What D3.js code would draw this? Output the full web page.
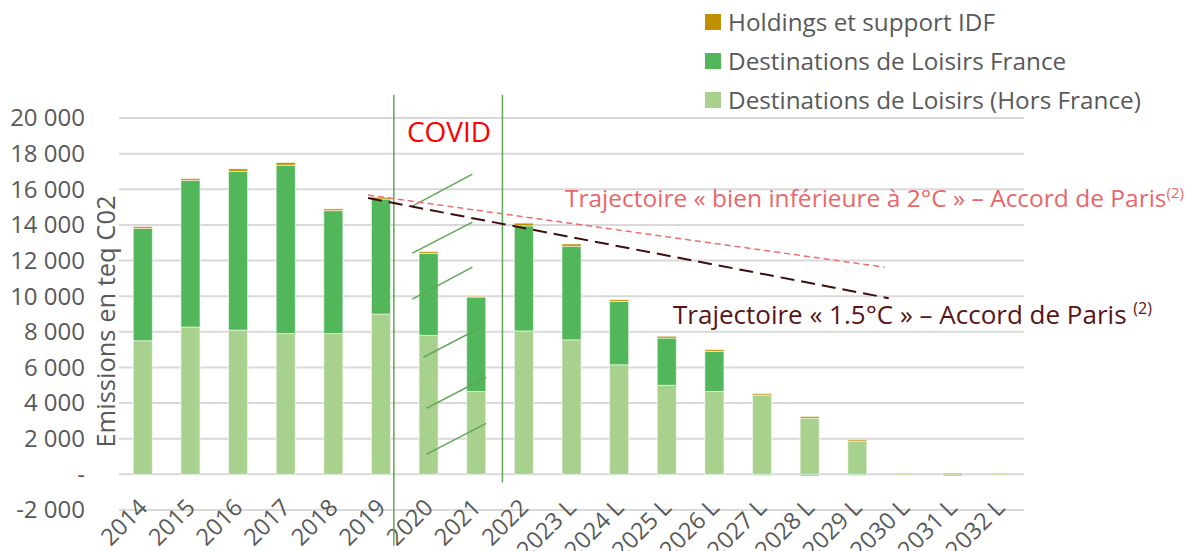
<!DOCTYPE html>
<html>
<head>
<meta charset="utf-8">
<script src="https://cdn.jsdelivr.net/npm/d3@7"></script>
<style>
  body { margin: 0; background: #fff; }
  svg { display: block; font-family: "Open Sans", Lato, sans-serif; }
</style>
</head>
<body>
<div id="chart"></div>
<script>
// categories and series
const years = ['2014', '2015', '2016', '2017', '2018', '2019', '2020', '2021', '2022',
    '2023 L', '2024 L', '2025 L', '2026 L', '2027 L', '2028 L', '2029 L', '2030 L', '2031 L', '2032 L'];
const horsFrance = [7500, 8270, 8100, 7900, 7900, 9000, 7800, 4650, 8050, 7550, 6150, 5000, 4650, 4450, 3150, 1870, -60, 0, -60];
const france = [6300, 8230, 8900, 9450, 6900, 6450, 4600, 5300, 5900, 5250, 3550, 2650, 2250, -50, -80, -50, 0, -80, 0];
const holdings = [100, 100, 150, 150, 100, 100, 100, 50, 150, 130, 100, 100, 100, 80, 100, 80, 60, 70, 60];
const yTicks = [-2000, 0, 2000, 4000, 6000, 8000, 10000, 12000, 14000, 16000, 18000, 20000];

// trajectories: [category index, value]
const traj2C = [[4.73, 15675], [15.57, 11630]];
const traj15C = [[4.73, 15506], [15.66, 9888]];

// covid period (category index positions, value extent)
const covidLines = [{i: 5.27, top: 21300, bottom: -4000}, {i: 7.55, top: 21300, bottom: -450}];
// hatch strokes inside the covid band: [i0, v0, i1, v1]
const covidHatch = [
    [5.66, 15056, 6.92, 16854],
    [5.66, 12416, 6.92, 14157],
    [5.66, 9831, 6.92, 11629],
    [5.89, 6573, 7.15, 8315],
    [5.95, 3708, 7.21, 5449],
    [5.95, 1124, 7.21, 2865]
];

const series = [
    {key: 'hors', name: 'Destinations de Loisirs (Hors France)', color: '#a9d18e'},
    {key: 'france', name: 'Destinations de Loisirs France', color: '#51b75a'},
    {key: 'holdings', name: 'Holdings et support IDF', color: '#bf9000'}
];

const W = 1199, H = 551;
const plot = {left: 119, right: 1024, top: 118, bottom: 510};

const rows = years.map((y, i) => ({year: y, hors: horsFrance[i], france: france[i], holdings: holdings[i]}));

const svg = d3.select('#chart').append('svg')
    .attr('width', W)
    .attr('height', H);

const x = d3.scaleBand()
    .domain(years)
    .range([plot.left, plot.right])
    .paddingInner(0.6)
    .paddingOuter(0.3);

const xi = d3.scaleLinear().domain([-0.5, years.length - 0.5]).range([plot.left, plot.right]);

const y = d3.scaleLinear()
    .domain([-2000, 20000])
    .range([plot.bottom, plot.top]);

// gridlines
svg.append('g')
    .selectAll('line')
    .data(yTicks)
    .join('line')
    .attr('x1', plot.left)
    .attr('x2', plot.right)
    .attr('y1', d => y(d))
    .attr('y2', d => y(d))
    .attr('stroke', '#d9d9d9')
    .attr('stroke-width', 2);

// y tick labels (excel style: space thousands, "-" for zero)
const fmt = d => d === 0 ? '-' : d3.format(',')(d).replace(/,/g, ' ').replace('\u2212', '-');
svg.append('g')
    .selectAll('text')
    .data(yTicks)
    .join('text')
    .attr('x', 85)
    .attr('y', d => y(d))
    .attr('dy', '0.35em')
    .attr('text-anchor', 'end')
    .attr('fill', '#595959')
    .style('font-size', '24px')
    .text(fmt);

// y axis title
svg.append('text')
    .attr('transform', `translate(115,${(188 + 455) / 2}) rotate(-90)`)
    .attr('text-anchor', 'middle')
    .attr('fill', '#595959')
    .style('font-size', '25.5px')
    .text('Emissions en teq C02');

// stacked bars
const stack = d3.stack()
    .keys(series.map(s => s.key))
    .offset(d3.stackOffsetDiverging);
const stacked = stack(rows);

svg.append('g')
    .selectAll('g')
    .data(stacked)
    .join('g')
    .attr('fill', (d, i) => series[i].color)
    .selectAll('rect')
    .data(d => d)
    .join('rect')
    .attr('x', d => x(d.data.year))
    .attr('width', x.bandwidth())
    .attr('y', d => y(Math.max(d[0], d[1])))
    .attr('height', d => Math.abs(y(d[0]) - y(d[1])))
    .attr('stroke', 'rgba(255,255,255,0.55)')
    .attr('stroke-width', 1);

// x labels
svg.append('g')
    .selectAll('text')
    .data(years)
    .join('text')
    .attr('transform', d => `translate(${x(d) + x.bandwidth() / 2 + 6},509) rotate(-45)`)
    .attr('text-anchor', 'end')
    .attr('fill', '#595959')
    .style('font-size', '23.5px')
    .text(d => d);

// covid lines
svg.append('g')
    .selectAll('line')
    .data(covidLines)
    .join('line')
    .attr('x1', d => xi(d.i))
    .attr('x2', d => xi(d.i))
    .attr('y1', d => y(d.top))
    .attr('y2', d => y(d.bottom))
    .attr('stroke', '#5fa855')
    .attr('stroke-width', 1.5);

svg.append('g')
    .selectAll('line')
    .data(covidHatch)
    .join('line')
    .attr('x1', d => xi(d[0]))
    .attr('y1', d => y(d[1]))
    .attr('x2', d => xi(d[2]))
    .attr('y2', d => y(d[3]))
    .attr('stroke', '#5fa855')
    .attr('stroke-width', 1.5);

svg.append('text')
    .attr('x', 449)
    .attr('y', 142)
    .attr('text-anchor', 'middle')
    .attr('fill', '#ff0000')
    .style('font-size', '28px')
    .text('COVID');

// trajectories
svg.append('line')
    .attr('x1', xi(traj2C[0][0])).attr('y1', y(traj2C[0][1]))
    .attr('x2', xi(traj2C[1][0])).attr('y2', y(traj2C[1][1]))
    .attr('stroke', '#ee6e6e')
    .attr('stroke-width', 1.5)
    .attr('stroke-dasharray', '6,4');

svg.append('line')
    .attr('x1', xi(traj15C[0][0])).attr('y1', y(traj15C[0][1]))
    .attr('x2', xi(traj15C[1][0])).attr('y2', y(traj15C[1][1]))
    .attr('stroke', '#3f0d0d')
    .attr('stroke-width', 2)
    .attr('stroke-dasharray', '14,7');

const t2 = svg.append('text')
    .attr('x', 565)
    .attr('y', 207)
    .attr('fill', '#e8676b')
    .style('font-size', '24.5px');
t2.append('tspan').text('Trajectoire « bien inférieure à 2°C » – Accord de Paris');
t2.append('tspan').attr('dy', -9).style('font-size', '15px').text('(2)');

const t15 = svg.append('text')
    .attr('x', 673)
    .attr('y', 324)
    .attr('fill', '#5a1414')
    .style('font-size', '26px');
t15.append('tspan').text('Trajectoire « 1.5°C » – Accord de Paris ');
t15.append('tspan').attr('dy', -10).style('font-size', '16px').text('(2)');

// legend
const legend = svg.append('g')
    .selectAll('g')
    .data(series.slice().reverse())
    .join('g')
    .attr('transform', (d, i) => `translate(705,${14 + i * 39})`);

legend.append('rect')
    .attr('width', 16)
    .attr('height', 16)
    .attr('fill', d => d.color);

legend.append('text')
    .attr('x', 23)
    .attr('y', 8)
    .attr('dy', '0.35em')
    .attr('fill', '#595959')
    .style('font-size', '24.3px')
    .text(d => d.name);
</script>
</body>
</html>
